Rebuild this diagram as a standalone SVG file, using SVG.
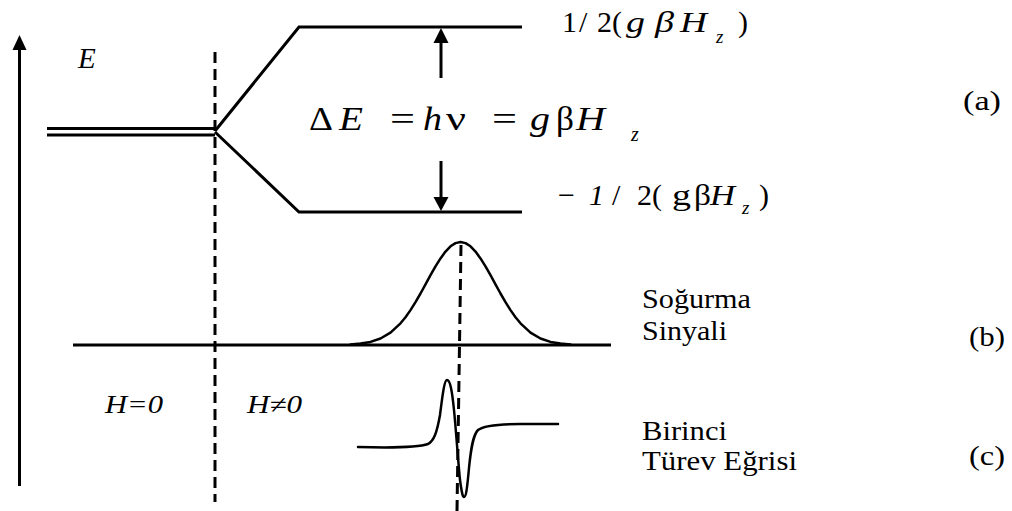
<svg xmlns="http://www.w3.org/2000/svg" width="1012" height="511" viewBox="0 0 1012 511">
<style>
.ln{stroke:#000;stroke-width:3;fill:none}
.cv{stroke:#000;stroke-width:2.5;fill:none;stroke-linejoin:round;stroke-linecap:round}
.ds{stroke:#000;stroke-width:3;fill:none;stroke-dasharray:11 6}
.ah{fill:#000}
text{font-family:'Liberation Serif','Times New Roman',serif;fill:#000}
.i{font-style:italic}
.eq{font-size:33px}
.lb{font-size:30px}
</style>
<rect width="1012" height="511" fill="#fff"/>
<g id="axis">
<line class="ln" x1="19.5" y1="48" x2="19.5" y2="486"/>
<polygon class="ah" points="19.5,35 12.5,50 26.5,50"/>
<text class="i" x="78" y="68" font-size="29">E</text>
</g>
<g id="levels">
<line class="ln" x1="47" y1="128.5" x2="215" y2="128.5"/>
<line class="ln" x1="47" y1="135" x2="215" y2="135"/>
<polyline class="ln" points="215,131 299,27 522,27"/>
<polyline class="ln" points="215,132 299,212 522,212"/>
</g>
<g id="connectors">
<line class="ds" x1="215" y1="52" x2="215" y2="502"/>
<line class="ds" x1="461" y1="245" x2="457" y2="511"/>
<line class="ln" x1="441" y1="78" x2="441" y2="40"/>
<polygon class="ah" points="441,28 433.5,43 448.5,43"/>
<line class="ln" x1="441" y1="161" x2="441" y2="199"/>
<polygon class="ah" points="441,211 433.5,197 448.5,197"/>
</g>
<g id="equation">
<text class="eq" x="309" y="130" textLength="24" lengthAdjust="spacingAndGlyphs">Δ</text>
<text class="eq i" x="339" y="130" textLength="24" lengthAdjust="spacingAndGlyphs">E</text>
<text class="eq" x="390" y="130" textLength="25" lengthAdjust="spacingAndGlyphs">=</text>
<text class="eq i" x="423" y="130" textLength="19" lengthAdjust="spacingAndGlyphs">h</text>
<text class="eq" x="446" y="130" textLength="20" lengthAdjust="spacingAndGlyphs">ν</text>
<text class="eq" x="492" y="130" textLength="25" lengthAdjust="spacingAndGlyphs">=</text>
<text class="eq i" x="530" y="130" textLength="20" lengthAdjust="spacingAndGlyphs">g</text>
<text class="eq" x="556" y="130" textLength="18" lengthAdjust="spacingAndGlyphs">β</text>
<text class="eq i" x="576" y="130" textLength="29" lengthAdjust="spacingAndGlyphs">H</text>
<text class="i" font-size="20" x="631" y="141">z</text>
</g>
<g id="label-upper">
<text class="lb" x="562" y="32">1</text>
<text class="lb" x="579" y="32">/</text>
<text class="lb" x="597" y="32">2(</text>
<text class="lb i" x="626" y="32" textLength="19" lengthAdjust="spacingAndGlyphs">g</text>
<text class="lb i" x="655" y="32" textLength="19" lengthAdjust="spacingAndGlyphs">β</text>
<text class="lb i" x="680" y="32" textLength="27" lengthAdjust="spacingAndGlyphs">H</text>
<text class="i" font-size="19" x="716" y="43">z</text>
<text class="lb" x="738" y="32">)</text>
</g>
<g id="label-lower">
<text class="lb" x="558" y="205">−</text>
<text class="lb i" x="589" y="205">1</text>
<text class="lb" x="612" y="205">/</text>
<text class="lb" x="637" y="205">2(</text>
<text class="lb" x="672" y="205" textLength="19" lengthAdjust="spacingAndGlyphs">g</text>
<text class="lb" x="694" y="205" textLength="17" lengthAdjust="spacingAndGlyphs">β</text>
<text class="lb i" x="710" y="205" textLength="25" lengthAdjust="spacingAndGlyphs">H</text>
<text class="i" font-size="19" x="742" y="214">z</text>
<text class="lb" x="759" y="205">)</text>
</g>
<text font-size="28" x="963" y="110" textLength="38" lengthAdjust="spacingAndGlyphs">(a)</text>
<g id="absorption">
<line class="ln" x1="73" y1="345" x2="611" y2="345"/>
<path class="cv" d="M350.5,344.4 L360.5,343.6 L370.5,341.9 L380.5,338.5 L390.5,332.6 L400.5,323.3 L405.5,317.2 L410.5,310.1 L415.5,302.1 L420.5,293.5 L425.5,284.4 L430.5,275.2 L435.5,266.4 L440.5,258.4 L445.5,251.6 L450.5,246.3 L455.5,243.1 L460.5,242 L465.5,243.1 L470.5,246.3 L475.5,251.6 L480.5,258.4 L485.5,266.4 L490.5,275.2 L495.5,284.4 L500.5,293.5 L505.5,302.1 L510.5,310.1 L515.5,317.2 L520.5,323.3 L530.5,332.6 L540.5,338.5 L550.5,341.9 L560.5,343.6 L570.5,344.4"/>
<text font-size="28" x="642" y="308" textLength="109" lengthAdjust="spacingAndGlyphs">Soğurma</text>
<text font-size="28" x="642" y="340" textLength="85" lengthAdjust="spacingAndGlyphs">Sinyali</text>
<text font-size="28" x="969" y="346" textLength="36" lengthAdjust="spacingAndGlyphs">(b)</text>
</g>
<g id="derivative">
<path class="cv" d="M358,447 C395,448 420,447 428,444 C434,441 437,432 440,415 C442,400 444,380 447,380 C450,380 452,390 454,410 C456,430 458,460 460,480 C462,495 463,497 464,497 C466,497 467,490 469,468 C471,448 473,435 478,430 C484,425 500,424 520,424 L558,424"/>
<text font-size="28" x="642" y="440" textLength="85" lengthAdjust="spacingAndGlyphs">Birinci</text>
<text font-size="28" x="642" y="470" textLength="155" lengthAdjust="spacingAndGlyphs">Türev Eğrisi</text>
<text font-size="28" x="969" y="465" textLength="36" lengthAdjust="spacingAndGlyphs">(c)</text>
</g>
<g id="field-labels">
<text class="i" font-size="25" x="105" y="413" textLength="58" lengthAdjust="spacingAndGlyphs">H=0</text>
<text class="i" font-size="25" x="247" y="413" textLength="55" lengthAdjust="spacingAndGlyphs">H≠0</text>
</g>
</svg>
